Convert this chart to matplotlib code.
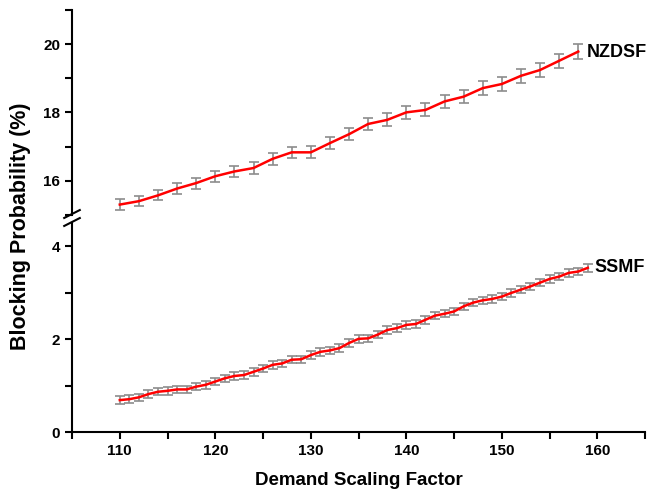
import numpy as np
import matplotlib.pyplot as plt
from matplotlib.lines import Line2D
from matplotlib.ticker import MultipleLocator

plt.rcParams['font.family'] = ['Liberation Sans', 'DejaVu Sans']
plt.rcParams['font.weight'] = 'bold'

# NZDSF: every 2 units
nz_x = np.arange(110, 160, 2)
nz_y = [15.30, 15.40, 15.57, 15.77, 15.93, 16.13, 16.27, 16.37, 16.64, 16.83,
        16.83, 17.10, 17.36, 17.66, 17.78, 18.00, 18.07, 18.32, 18.46, 18.71,
        18.83, 19.07, 19.24, 19.51, 19.78]
nz_err = [0.15, 0.15, 0.15, 0.16, 0.16, 0.16, 0.17, 0.17, 0.17, 0.17,
          0.18, 0.18, 0.18, 0.18, 0.19, 0.19, 0.19, 0.19, 0.20, 0.20,
          0.20, 0.20, 0.21, 0.21, 0.22]

# SSMF: every unit
ss_x = np.arange(110, 160, 1)
ss_y = [0.69, 0.71, 0.75, 0.82, 0.87, 0.89, 0.92, 0.92, 0.98, 1.02,
        1.09, 1.16, 1.21, 1.23, 1.30, 1.37, 1.45, 1.48, 1.56, 1.57,
        1.66, 1.73, 1.76, 1.81, 1.92, 2.01, 2.02, 2.10, 2.20, 2.24,
        2.31, 2.33, 2.42, 2.51, 2.55, 2.60, 2.71, 2.79, 2.84, 2.87,
        2.92, 3.00, 3.07, 3.14, 3.22, 3.30, 3.35, 3.43, 3.46, 3.54]
ss_err = 0.08

fig = plt.figure(figsize=(6.49, 4.95), dpi=100)
ax_top = fig.add_axes([0.111, 0.566, 0.883, 0.414])
ax_bot = fig.add_axes([0.111, 0.127, 0.883, 0.422])

ebar_kw = dict(color='red', lw=1.8, ecolor='#8c8c8c', elinewidth=1.2,
               capsize=3.5, capthick=1.2, zorder=3)
ax_top.errorbar(nz_x, nz_y, yerr=nz_err, **ebar_kw)
ax_bot.errorbar(ss_x, ss_y, yerr=ss_err, **ebar_kw)

for ax in (ax_top, ax_bot):
    ax.set_xlim(105, 165)
    for s in ('top', 'right'):
        ax.spines[s].set_visible(False)
    ax.spines['left'].set_linewidth(1.5)
    ax.tick_params(axis='both', which='both', direction='out', width=1.5,
                   length=5, labelsize=11)

ax_top.set_ylim(15, 21)
ax_top.set_yticks([16, 18, 20])
ax_top.yaxis.set_minor_locator(MultipleLocator(1))
ax_top.spines['bottom'].set_visible(False)
ax_top.tick_params(axis='x', which='both', bottom=False, labelbottom=False)

ax_bot.set_ylim(0, 4.5)
ax_bot.set_yticks([0, 2, 4])
ax_bot.yaxis.set_minor_locator(MultipleLocator(1))
ax_bot.set_xticks(np.arange(110, 161, 10))
ax_bot.xaxis.set_minor_locator(MultipleLocator(5))
ax_bot.spines['bottom'].set_linewidth(1.5)

for lbl in ax_top.get_yticklabels() + ax_bot.get_yticklabels() + ax_bot.get_xticklabels():
    lbl.set_fontweight('bold')

ax_top.text(158.9, 19.75, 'NZDSF', fontsize=13, fontweight='bold', va='center')
ax_bot.text(159.7, 3.55, 'SSMF', fontsize=13, fontweight='bold', va='center')

ax_bot.set_xlabel('Demand Scaling Factor', fontsize=13.5, fontweight='bold', labelpad=10)
fig.text(0.031, 0.543, 'Blocking Probability (%)', rotation=90, fontsize=15.5,
         fontweight='bold', ha='center', va='center')

# break marks on the y axis
xb = 72 / 649
for yp in (214, 222):
    yf = 1 - yp / 495
    fig.add_artist(Line2D([xb - 0.012, xb + 0.012], [yf - 0.008, yf + 0.008],
                          color='black', lw=1.5, transform=fig.transFigure))

fig.savefig('out.png', dpi=100)
